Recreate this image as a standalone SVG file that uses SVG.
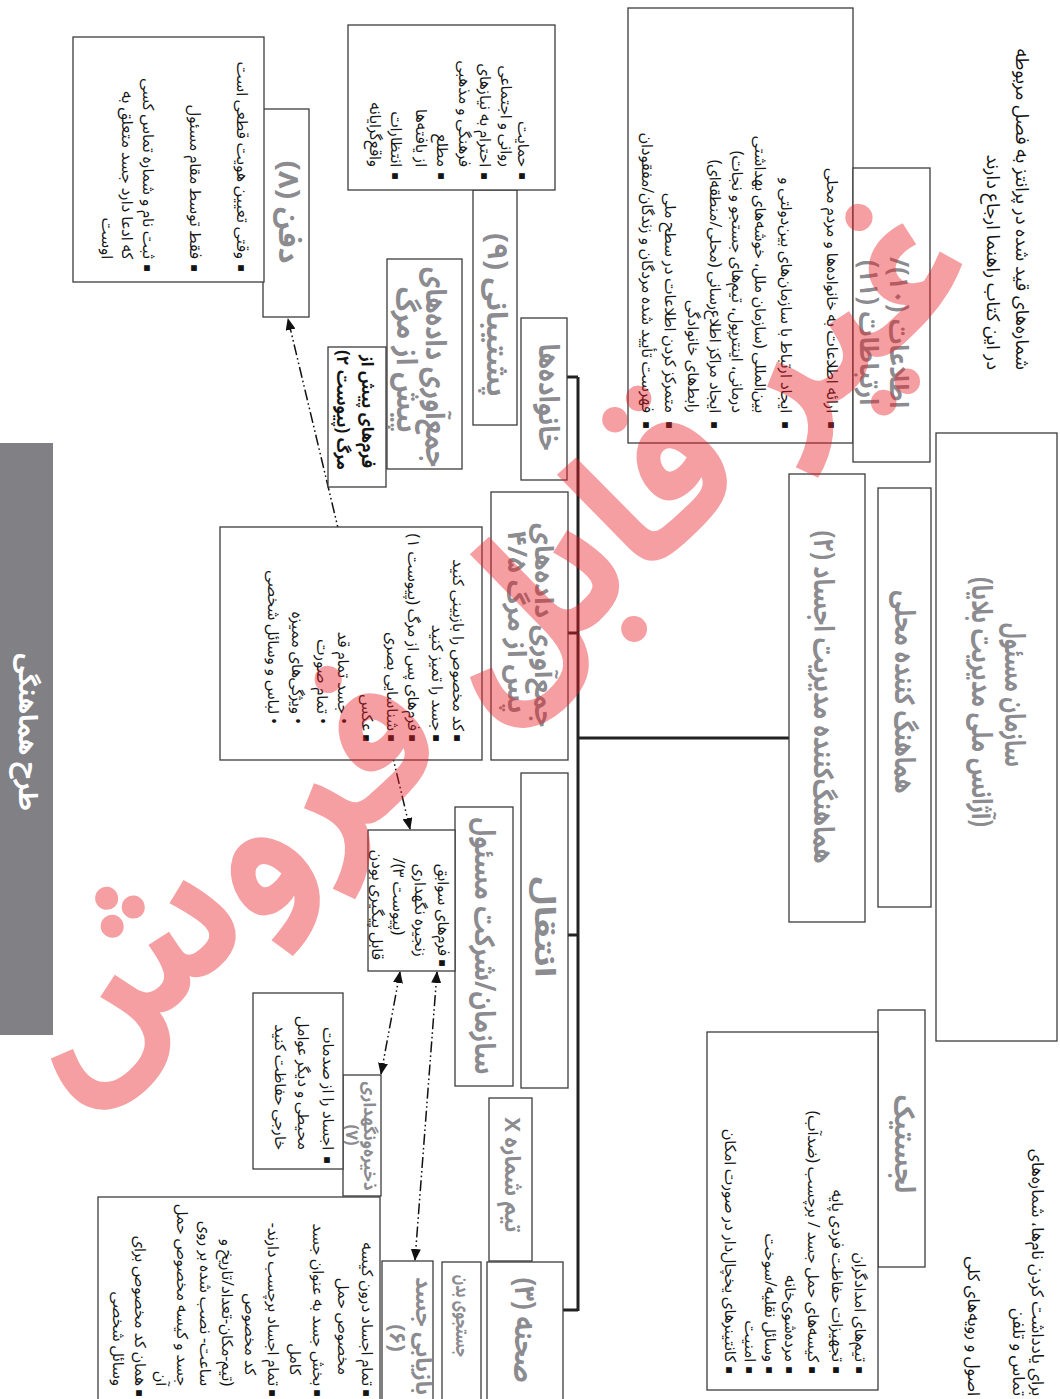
<svg xmlns="http://www.w3.org/2000/svg" width="1060" height="1399" viewBox="0 0 1060 1399">
<style>
.box{fill:#fff;stroke:#3c3c3c;stroke-width:1.3}
.t{font-family:"Noto Sans Arabic","DejaVu Sans",sans-serif;direction:rtl;text-anchor:start}
.m{text-anchor:middle}
.ti{font-weight:bold;fill:#8b8b90;font-size:28px}
.b{font-size:16px;fill:#141414}
.bb{font-size:17px;fill:#141414;font-weight:bold}
.h{font-size:18.5px;fill:#141414}
.h2{font-size:17px;fill:#141414}
.sq{font-family:"DejaVu Sans",sans-serif;font-size:7.5px;fill:#141414;text-anchor:middle}
.trunk{stroke:#222;stroke-width:3;fill:none}
.dd{stroke:#111;stroke-width:1.5;fill:none;stroke-dasharray:11 3 1.6 3 1.6 3;marker-start:url(#ah);marker-end:url(#ah)}
</style>
<defs>
<marker id="ah" viewBox="0 0 12 10" refX="11" refY="5" markerWidth="12" markerHeight="10" markerUnits="userSpaceOnUse" orient="auto-start-reverse">
<path d="M0,0 L12,5 L0,10 Z" fill="#111"/>
</marker>
</defs>
<rect width="1060" height="1399" fill="#fff"/>

<g id="notes">
<text class="t h" transform="translate(1016,370) rotate(90)">شماره‌های قید شده در پرانتز به فصل مربوطه</text>
<text class="t h" transform="translate(987,370) rotate(90)">در این کتاب راهنما ارجاع دارند</text>
<text class="t h2" transform="translate(1032,1396) rotate(90)">برای یادداشت کردن نام‌ها، شماره‌های</text>
<text class="t h2" transform="translate(1013,1396) rotate(90)">تماس و تلفن</text>
<text class="t h2" transform="translate(968,1396) rotate(90)">اصول و رویه‌های کلی</text>
</g>

<g id="connectors">
<line class="trunk" x1="578" y1="377" x2="578" y2="1311"/>
<line class="trunk" x1="566" y1="377" x2="578" y2="377"/>
<line class="trunk" x1="567" y1="633" x2="578" y2="633"/>
<line class="trunk" x1="567" y1="935" x2="578" y2="935"/>
<line class="trunk" x1="562" y1="1310" x2="578" y2="1310"/>
<line class="trunk" x1="578" y1="738" x2="789" y2="738"/>
<line class="dd" x1="410" y1="829" x2="288" y2="319"/>
<line class="dd" x1="400" y1="972" x2="381" y2="1074"/>
<line class="dd" x1="437" y1="972" x2="415" y2="1260"/>
</g>

<g id="n-agency">
<rect class="box" x="936" y="433" width="121" height="608"/>
<text class="t m ti" textLength="144" lengthAdjust="spacingAndGlyphs" transform="translate(1005,695) rotate(90)">سازمان مسئول</text>
<text class="t m ti" textLength="250" lengthAdjust="spacingAndGlyphs" transform="translate(972,702) rotate(90)">(آژانس ملی مدیریت بلایا)</text>
</g>

<g id="n-local">
<rect class="box" x="878" y="488" width="53" height="419"/>
<text class="t m ti" textLength="203" lengthAdjust="spacingAndGlyphs" transform="translate(895,692) rotate(90)">هماهنگ کننده محلی</text>
</g>

<g id="n-coord">
<rect class="box" x="789" y="474" width="76" height="448"/>
<text class="t m ti" textLength="333" lengthAdjust="spacingAndGlyphs" transform="translate(814,697) rotate(90)">هماهنگ‌کننده مدیریت اجساد (۲)</text>
</g>

<g id="n-info-list">
<rect class="box" x="628" y="8" width="225" height="435"/>
<text class="sq" transform="translate(829,425) rotate(90)">■</text>
<text class="t b" transform="translate(827,413) rotate(90)">ارائه اطلاعات به خانواده‌ها و مردم محلی</text>
<text class="sq" transform="translate(783,425) rotate(90)">■</text>
<text class="t b" transform="translate(781,413) rotate(90)">ایجاد ارتباط با سازمان‌های بین‌دولتی و</text>
<text class="t b" transform="translate(755,413) rotate(90)">بین‌المللی (سازمان ملل، خوشه‌های بهداشتی</text>
<text class="t b" transform="translate(732,413) rotate(90)">درمانی، اینترپول، تیم‌های جستجو و نجات)</text>
<text class="sq" transform="translate(712,425) rotate(90)">■</text>
<text class="t b" transform="translate(710,413) rotate(90)">ایجاد مراکز اطلاع‌رسانی (محلی/منطقه‌ای)</text>
<text class="t b" transform="translate(688,413) rotate(90)">رابط‌های خانوادگی</text>
<text class="sq" transform="translate(667,425) rotate(90)">■</text>
<text class="t b" transform="translate(665,413) rotate(90)">متمرکز کردن اطلاعات در سطح ملی</text>
<text class="sq" transform="translate(644,425) rotate(90)">■</text>
<text class="t b" transform="translate(642,413) rotate(90)">فهرست تأیید شده مردگان و زندگان/مفقودان</text>
</g>

<g id="n-info">
<rect class="box" x="853" y="168" width="77" height="294"/>
<text class="t ti" style="font-size:26px" textLength="151" lengthAdjust="spacingAndGlyphs" transform="translate(890,408) rotate(90)">اطلاعات (۱۰)/</text>
<text class="t ti" style="font-size:26px" textLength="145" lengthAdjust="spacingAndGlyphs" transform="translate(860,405) rotate(90)">ارتباطات (۱۱)</text>
</g>

<g id="n-logistics">
<rect class="box" x="878" y="1010" width="47" height="257"/>
<text class="t m ti" textLength="98" lengthAdjust="spacingAndGlyphs" transform="translate(895,1144) rotate(90)">لجستیک</text>
</g>

<g id="n-logistics-list">
<rect class="box" x="707" y="1032" width="171" height="358"/>
<text class="sq" transform="translate(857,1370) rotate(90)">■</text>
<text class="t b" transform="translate(855,1362) rotate(90)">تیم‌های امدادگران</text>
<text class="sq" transform="translate(834,1370) rotate(90)">■</text>
<text class="t b" transform="translate(832,1362) rotate(90)">تجهیزات حفاظت فردی پایه</text>
<text class="sq" transform="translate(810,1370) rotate(90)">■</text>
<text class="t b" transform="translate(808,1362) rotate(90)">کیسه‌های حمل جسد / برچسب (ضدآب)</text>
<text class="sq" transform="translate(787,1370) rotate(90)">■</text>
<text class="t b" transform="translate(785,1362) rotate(90)">مرده‌شوی‌خانه</text>
<text class="sq" transform="translate(767,1370) rotate(90)">■</text>
<text class="t b" transform="translate(765,1362) rotate(90)">وسائل نقلیه/سوخت</text>
<text class="sq" transform="translate(747,1370) rotate(90)">■</text>
<text class="t b" transform="translate(745,1362) rotate(90)">امنیت</text>
<text class="sq" transform="translate(727,1370) rotate(90)">■</text>
<text class="t b" transform="translate(725,1362) rotate(90)">کانتینرهای یخچال‌دار در صورت امکان</text>
</g>

<g id="n-families">
<rect class="box" x="521" y="318" width="46" height="162"/>
<text class="t m ti" textLength="107" lengthAdjust="spacingAndGlyphs" transform="translate(539,397) rotate(90)">خانواده‌ها</text>
</g>

<g id="n-support">
<rect class="box" x="473" y="190" width="44" height="235"/>
<text class="t m ti" textLength="164" lengthAdjust="spacingAndGlyphs" transform="translate(487,315) rotate(90)">پشتیبانی (۹)</text>
</g>

<g id="n-support-list">
<rect class="box" x="348" y="25" width="207" height="165"/>
<text class="sq" transform="translate(520,176) rotate(90)">■</text>
<text class="t b" transform="translate(518,167) rotate(90)">حمایت</text>
<text class="t b" transform="translate(501,167) rotate(90)">روانی و اجتماعی</text>
<text class="sq" transform="translate(482,176) rotate(90)">■</text>
<text class="t b" transform="translate(480,167) rotate(90)">احترام به نیازهای</text>
<text class="t b" transform="translate(459,167) rotate(90)">فرهنگی و مذهبی</text>
<text class="sq" transform="translate(439,176) rotate(90)">■</text>
<text class="t b" transform="translate(437,167) rotate(90)">مطلع</text>
<text class="t b" transform="translate(416,167) rotate(90)">از یافته‌ها</text>
<text class="sq" transform="translate(393,176) rotate(90)">■</text>
<text class="t b" transform="translate(391,167) rotate(90)">انتظارات</text>
<text class="t b" transform="translate(370,167) rotate(90)">واقع‌گرایانه</text>
</g>

<g id="n-antemortem">
<rect class="box" x="387" y="259" width="75" height="210"/>
<text class="t m ti" style="font-size:29px" textLength="200" lengthAdjust="spacingAndGlyphs" transform="translate(426,367) rotate(90)">جمع‌آوری داده‌های</text>
<text class="t m ti" style="font-size:29px" textLength="146" lengthAdjust="spacingAndGlyphs" transform="translate(397,360) rotate(90)">پیش از مرگ</text>
</g>

<g id="n-am-forms">
<rect class="box" x="328" y="347" width="58" height="140"/>
<text class="t bb" transform="translate(362,468) rotate(90)">فرم‌های پیش از</text>
<text class="t bb" transform="translate(337,470) rotate(90)">مرگ (پیوست ۲)</text>
</g>

<g id="n-postmortem">
<rect class="box" x="491" y="492" width="77" height="268"/>
<text class="t m ti" style="font-size:26px" textLength="204" lengthAdjust="spacingAndGlyphs" transform="translate(535,625) rotate(90)">جمع‌آوری داده‌های</text>
<text class="t m ti" style="font-size:26px" textLength="183" lengthAdjust="spacingAndGlyphs" transform="translate(508,622) rotate(90)">پس از مرگ ۴/۵</text>
</g>

<g id="n-pm-list">
<rect class="box" x="220" y="527" width="262" height="233"/>
<text class="sq" transform="translate(455,738) rotate(90)">■</text>
<text class="t b" transform="translate(453,731) rotate(90)">کد مخصوص را بازبینی کنید</text>
<text class="sq" transform="translate(434,738) rotate(90)">■</text>
<text class="t b" transform="translate(432,731) rotate(90)">جسد را تمیز کنید</text>
<text class="sq" transform="translate(410,738) rotate(90)">■</text>
<text class="t b" transform="translate(408,731) rotate(90)">فرم‌های پس از مرگ (پیوست ۱)</text>
<text class="sq" transform="translate(389,738) rotate(90)">■</text>
<text class="t b" transform="translate(387,731) rotate(90)">شناسایی بصری</text>
<text class="sq" transform="translate(364,738) rotate(90)">■</text>
<text class="t b" transform="translate(362,731) rotate(90)">عکس</text>
<text class="t b" transform="translate(338,724) rotate(90)">• جسد تمام قد</text>
<text class="t b" transform="translate(317,724) rotate(90)">• تمام صورت</text>
<text class="t b" transform="translate(292,724) rotate(90)">• ویژگی‌های ممیزه</text>
<text class="t b" transform="translate(268,724) rotate(90)">• لباس و وسائل شخصی</text>
</g>

<g id="n-transport">
<rect class="box" x="521" y="773" width="47" height="315"/>
<text class="t m ti" textLength="101" lengthAdjust="spacingAndGlyphs" transform="translate(535,927) rotate(90)">انتقال</text>
</g>

<g id="n-org">
<rect class="box" x="455" y="807" width="58" height="279"/>
<text class="t m ti" textLength="257" lengthAdjust="spacingAndGlyphs" transform="translate(475,946) rotate(90)">سازمان/شرکت مسئول</text>
</g>

<g id="n-custody">
<rect class="box" x="368" y="830" width="87" height="141"/>
<text class="sq" transform="translate(440,963) rotate(90)">■</text>
<text class="t b" transform="translate(438,956) rotate(90)">فرم‌های سوابق</text>
<text class="t b" transform="translate(415,957) rotate(90)">زنجیره نگهداری</text>
<text class="t b" transform="translate(393,935) rotate(90)">(پیوست ۳)/</text>
<text class="t b" transform="translate(372,960) rotate(90)">قابل پیگیری بودن</text>
</g>

<g id="n-team">
<rect class="box" x="489" y="1098" width="43" height="163"/>
<text class="t m ti" style="font-size:22px" textLength="115" lengthAdjust="spacingAndGlyphs" transform="translate(505,1175) rotate(90)">تیم شماره X</text>
</g>

<g id="n-scene">
<rect class="box" x="487" y="1262" width="76" height="142"/>
<text class="t m ti" textLength="105" lengthAdjust="spacingAndGlyphs" transform="translate(515,1330) rotate(90)">صحنه (۳)</text>
</g>

<g id="n-search">
<rect class="box" x="442" y="1262" width="39" height="142"/>
<text class="t m ti" style="font-size:19px" textLength="82" lengthAdjust="spacingAndGlyphs" transform="translate(456,1316) rotate(90)">جستجوی بدن</text>
</g>

<g id="n-recovery">
<rect class="box" x="382" y="1261" width="51" height="143"/>
<text class="t m ti" style="font-size:22px" textLength="118" lengthAdjust="spacingAndGlyphs" transform="translate(416,1336) rotate(90)">بازیابی جسد</text>
<text class="t m ti" style="font-size:22px" transform="translate(390,1338) rotate(90)">(۶)</text>
</g>

<g id="n-recovery-list">
<rect class="box" x="98" y="1197" width="282" height="207"/>
<text class="sq" transform="translate(364,1393) rotate(90)">■</text>
<text class="t b" transform="translate(362,1386) rotate(90)">تمام اجساد درون کیسه</text>
<text class="t b" transform="translate(338,1375) rotate(90)">مخصوص حمل</text>
<text class="sq" transform="translate(315,1393) rotate(90)">■</text>
<text class="t b" transform="translate(313,1386) rotate(90)">بخش جسد به عنوان جسد</text>
<text class="t b" transform="translate(290,1375) rotate(90)">کامل</text>
<text class="sq" transform="translate(270,1393) rotate(90)">■</text>
<text class="t b" transform="translate(268,1386) rotate(90)">تمام اجساد برچسب دارند-</text>
<text class="t b" transform="translate(245,1375) rotate(90)">کد مخصوص</text>
<text class="t b" transform="translate(222,1386) rotate(90)">(تیم-مکان-تعداد/تاریخ و</text>
<text class="t b" transform="translate(200,1386) rotate(90)">ساعت- نصب شده بر روی</text>
<text class="t b" transform="translate(177,1386) rotate(90)">جسد و کیسه مخصوص حمل</text>
<text class="t b" transform="translate(156,1386) rotate(90)">آن</text>
<text class="sq" transform="translate(137,1393) rotate(90)">■</text>
<text class="t b" transform="translate(135,1386) rotate(90)">همان کد مخصوص برای</text>
<text class="t b" transform="translate(113,1386) rotate(90)">وسائل شخصی</text>
</g>

<g id="n-storage">
<rect class="box" x="343" y="1075" width="38" height="121"/>
<text class="t m ti" style="font-size:17px" transform="translate(364,1136) rotate(90)">ذخیره‌ونگهداری</text>
<text class="t m ti" style="font-size:17px" transform="translate(346,1135) rotate(90)">(۷)</text>
</g>

<g id="n-storage-list">
<rect class="box" x="253" y="993" width="90" height="176"/>
<text class="sq" transform="translate(325,1160) rotate(90)">■</text>
<text class="t b" transform="translate(323,1150) rotate(90)">اجساد را از صدمات</text>
<text class="t b" transform="translate(298,1150) rotate(90)">محیطی و دیگر عوامل</text>
<text class="t b" transform="translate(275,1150) rotate(90)">خارجی حفاظت کنید</text>
</g>

<g id="n-burial">
<rect class="box" x="263" y="109" width="46" height="208"/>
<text class="t m ti" textLength="103" lengthAdjust="spacingAndGlyphs" transform="translate(279,212) rotate(90)">دفن (۸)</text>
</g>

<g id="n-burial-list">
<rect class="box" x="73" y="37" width="191" height="245"/>
<text class="sq" transform="translate(239,268) rotate(90)">■</text>
<text class="t b" transform="translate(237,259) rotate(90)">وقتی تعیین هویت قطعی است</text>
<text class="sq" transform="translate(192,268) rotate(90)">■</text>
<text class="t b" transform="translate(190,259) rotate(90)">فقط توسط مقام مسئول</text>
<text class="sq" transform="translate(145,268) rotate(90)">■</text>
<text class="t b" transform="translate(143,259) rotate(90)">ثبت نام و شماره تماس کسی</text>
<text class="t b" transform="translate(122,259) rotate(90)">که ادعا دارد جسد متعلق به</text>
<text class="t b" transform="translate(102,259) rotate(90)">اوست</text>
</g>

<g id="n-plan">
<rect x="0" y="443" width="53" height="592" fill="#808085"/>
<text class="t m" style="font-size:26px;font-weight:bold;fill:#fff" transform="translate(19,732) rotate(90)">طرح هماهنگی</text>
</g>

<g id="watermark" opacity="0.42">
<text class="t m" style="font-size:185px;font-weight:bold;fill:#ec1c24" textLength="1230" lengthAdjust="spacingAndGlyphs" transform="translate(525,687) rotate(-42.3)">غیر قابل فروش</text>
</g>
</svg>
